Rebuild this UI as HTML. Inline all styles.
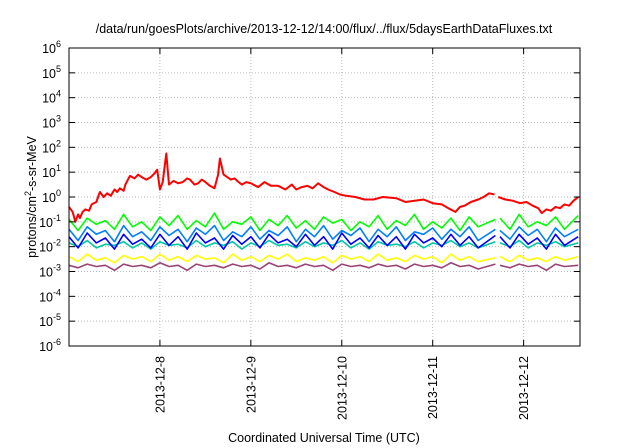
<!DOCTYPE html>
<html><head><meta charset="utf-8"><style>
body{margin:0;background:#fff}
svg{display:block;font-family:"Liberation Sans",sans-serif}
</style></head><body>
<svg id="c" width="640" height="448" xmlns="http://www.w3.org/2000/svg">
<rect width="640" height="448" fill="#fff"/>
<text x="324" y="33" font-size="12.5" text-anchor="middle">/data/run/goesPlots/archive/2013-12-12/14:00/flux/../flux/5daysEarthDataFluxes.txt</text>
<text x="324" y="442" font-size="12.5" text-anchor="middle">Coordinated Universal Time (UTC)</text>
<text transform="translate(36,197) rotate(-90)" font-size="12.5" text-anchor="middle">protons/cm<tspan dy="-5" font-size="9">2</tspan><tspan dy="5">-s-sr-MeV</tspan></text>
<g id="grid"></g><g id="series"></g><g id="axes"></g>
</svg>
<script>
const xTickLabels=["2013-12-8","2013-12-9","2013-12-10","2013-12-11","2013-12-12"];
const xTickDays=[1,2,3,4,5];
const yTickExps=[-6,-5,-4,-3,-2,-1,0,1,2,3,4,5,6];
const redTimes=[0,0.04,0.07,0.1,0.12,0.15,0.18,0.22,0.25,0.3,0.34,0.38,0.42,0.46,0.5,0.53,0.56,0.6,0.62,0.67,0.72,0.76,0.8,0.85,0.9,0.94,0.97,1.0,1.03,1.07,1.1,1.15,1.2,1.25,1.3,1.33,1.38,1.42,1.46,1.5,1.55,1.6,1.64,1.66,1.7,1.74,1.78,1.82,1.85,1.9,1.95,2.0,2.08,2.15,2.22,2.3,2.38,2.45,2.5,2.56,2.62,2.68,2.74,2.8,2.85,2.92,2.98,3.05,3.15,3.25,3.35,3.45,3.6,3.7,3.8,3.9,4.0,4.1,4.17,4.25,4.3,4.35,4.42,4.5,4.56,4.62,4.68,4.7,4.72,4.8,4.88,4.96,5.03,5.1,5.16,5.2,5.25,5.3,5.35,5.4,5.45,5.5,5.55,5.6];
const redVals=[-0.4,-0.6,-1.0,-0.7,-0.85,-0.6,-0.5,-0.55,-0.3,-0.2,0.2,0.0,0.15,0.05,0.3,0.2,0.35,0.25,0.5,0.85,0.75,0.9,0.8,0.7,0.8,0.95,1.1,0.3,0.6,1.75,0.5,0.65,0.55,0.6,0.75,0.7,0.5,0.55,0.7,0.6,0.45,0.35,0.9,1.55,0.9,0.8,0.7,0.75,0.65,0.5,0.6,0.55,0.4,0.6,0.45,0.45,0.3,0.5,0.3,0.4,0.45,0.35,0.55,0.4,0.3,0.2,0.1,0.05,0.0,-0.1,-0.1,0.0,-0.05,-0.2,-0.15,-0.1,-0.25,-0.3,-0.45,-0.6,-0.4,-0.35,-0.2,-0.1,0.0,0.15,0.1,null,0.0,-0.1,-0.15,-0.25,-0.2,-0.35,-0.45,-0.65,-0.5,-0.55,-0.4,-0.45,-0.3,-0.35,-0.15,0.0];
const noiseTimes=[0,0.1,0.2,0.3,0.4,0.5,0.6,0.7,0.8,0.9,1.0,1.1,1.2,1.3,1.4,1.5,1.6,1.7,1.8,1.9,2.0,2.1,2.2,2.3,2.4,2.5,2.6,2.7,2.8,2.9,3.0,3.1,3.2,3.3,3.4,3.5,3.6,3.7,3.8,3.9,4.0,4.1,4.2,4.3,4.4,4.5,4.69,4.71,4.74,4.85,4.95,5.05,5.15,5.25,5.35,5.45,5.6];
const green=[-0.9,-1.35,-0.85,-1.1,-0.95,-1.3,-0.7,-1.2,-1.0,-1.35,-0.8,-1.15,-0.75,-1.3,-0.95,-1.2,-0.65,-1.3,-1.0,-1.1,-0.8,-1.35,-0.9,-1.15,-0.75,-1.25,-0.95,-1.3,-0.8,-1.05,-0.9,-1.35,-1.0,-1.2,-0.75,-1.3,-0.95,-1.15,-0.7,-1.3,-1.0,-1.25,-0.85,-1.35,-0.8,-1.2,-0.9,null,-0.85,-1.3,-0.7,-1.2,-1.0,-1.15,-0.8,-1.3,-0.75];
const lblue=[-1.3,-1.75,-1.2,-1.5,-1.35,-1.8,-1.15,-1.6,-1.4,-1.75,-1.2,-1.55,-1.3,-1.8,-1.25,-1.5,-1.15,-1.75,-1.4,-1.6,-1.2,-1.7,-1.35,-1.55,-1.2,-1.8,-1.3,-1.6,-1.15,-1.7,-1.35,-1.55,-1.25,-1.8,-1.3,-1.6,-1.2,-1.75,-1.4,-1.5,-1.25,-1.7,-1.3,-1.6,-1.2,-1.75,-1.3,null,-1.35,-1.7,-1.2,-1.55,-1.3,-1.8,-1.25,-1.6,-1.3];
const blue=[-1.6,-2.05,-1.45,-1.85,-1.65,-2.1,-1.5,-1.9,-1.7,-2.05,-1.5,-1.95,-1.6,-2.1,-1.45,-1.85,-1.65,-2.1,-1.55,-1.9,-1.6,-2.05,-1.5,-1.85,-1.7,-2.0,-1.5,-1.95,-1.6,-2.1,-1.45,-1.9,-1.65,-2.05,-1.55,-1.95,-1.6,-2.1,-1.5,-1.85,-1.65,-2.0,-1.5,-1.95,-1.6,-2.05,-1.55,null,-1.6,-2.05,-1.5,-1.9,-1.65,-2.1,-1.5,-1.95,-1.6];
const teal=[-1.85,-2.0,-1.75,-2.05,-1.9,-1.95,-1.8,-2.05,-1.85,-2.1,-1.8,-1.95,-1.9,-2.05,-1.75,-2.0,-1.85,-1.95,-1.8,-2.1,-1.85,-2.0,-1.75,-1.95,-1.9,-2.05,-1.8,-2.0,-1.85,-1.95,-1.75,-2.05,-1.85,-2.1,-1.8,-1.95,-1.9,-2.0,-1.8,-2.05,-1.85,-1.95,-1.75,-2.0,-1.85,-2.05,-1.8,null,-1.85,-2.0,-1.75,-2.05,-1.85,-1.95,-1.8,-2.0,-1.85];
const yellow=[-2.4,-2.6,-2.3,-2.55,-2.45,-2.65,-2.35,-2.5,-2.4,-2.6,-2.3,-2.55,-2.4,-2.6,-2.35,-2.5,-2.45,-2.65,-2.3,-2.55,-2.4,-2.6,-2.35,-2.5,-2.3,-2.6,-2.45,-2.55,-2.4,-2.65,-2.35,-2.5,-2.4,-2.6,-2.3,-2.55,-2.45,-2.6,-2.35,-2.5,-2.4,-2.65,-2.3,-2.55,-2.4,-2.6,-2.45,null,-2.4,-2.6,-2.35,-2.55,-2.45,-2.6,-2.4,-2.55,-2.4];
const purple=[-2.75,-2.85,-2.7,-2.8,-2.75,-2.95,-2.7,-2.8,-2.75,-2.85,-2.65,-2.8,-2.75,-2.95,-2.7,-2.8,-2.75,-2.85,-2.7,-2.8,-2.75,-2.9,-2.65,-2.8,-2.75,-2.85,-2.7,-2.8,-2.75,-2.95,-2.7,-2.8,-2.75,-2.85,-2.7,-2.8,-2.75,-2.9,-2.7,-2.8,-2.75,-2.85,-2.65,-2.8,-2.75,-2.9,-2.7,null,-2.75,-2.85,-2.7,-2.8,-2.75,-2.95,-2.7,-2.8,-2.75];

const L=69,R=580,T=48,B=346,DMAX=5.62;
const xS=d=>L+d/DMAX*(R-L);
const yS=e=>B-(e+6)/12*(B-T);
const NS="http://www.w3.org/2000/svg";
function mk(tag,parent,attrs){const el=document.createElementNS(NS,tag);for(const k in attrs)el.setAttribute(k,attrs[k]);parent.appendChild(el);return el;}
const grid=document.getElementById('grid'),axes=document.getElementById('axes'),ser=document.getElementById('series');

yTickExps.forEach(e=>{
  const y=yS(e);
  if(e>-6&&e<6){const g=mk('line',grid,{x1:L,x2:R,y1:y,y2:y,stroke:'#bbb','stroke-dasharray':'1,2','stroke-width':1});
  
  }
  mk('line',axes,{x1:L,x2:L+6,y1:y,y2:y,stroke:'#000'});
  mk('line',axes,{x1:R,x2:R-6,y1:y,y2:y,stroke:'#000'});
  const t=mk('text',axes,{x:L-8,y:y+5,'font-size':12.5,'text-anchor':'end'});
  
  
  t.innerHTML='10<tspan dy="-6" font-size="9">'+e+'</tspan>';
});
xTickDays.forEach((d,i)=>{
  const x=xS(d);
  const g=mk('line',grid,{x1:x,x2:x,y1:T,y2:B,stroke:'#bbb','stroke-dasharray':'1,2'});
  
  
  mk('line',axes,{x1:x,x2:x,y1:B,y2:B-6,stroke:'#000'});
  mk('line',axes,{x1:x,x2:x,y1:T,y2:T+6,stroke:'#000'});
  const t=mk('text',axes,{transform:`translate(${x+4.5},${B+10}) rotate(-90)`,'font-size':12.5,'text-anchor':'end'});
  
  
  t.textContent=xTickLabels[i];
});
const frame=mk('rect',axes,{x:L,y:T,width:R-L,height:B-T,fill:'none',stroke:'#000','stroke-width':1});



function path(times,vals){let d='',pen=false;vals.forEach((v,i)=>{if(v===null){pen=false;return;}d+=(pen?'L':'M')+xS(times[i]).toFixed(1)+','+yS(v).toFixed(1);pen=true;});return d;}
const list=[['purple-series',purple,'#994477'],['yellow-series',yellow,'#ffff00'],['teal-series',teal,'#00c8a0'],['blue-series',blue,'#0000ff'],['lightblue-series',lblue,'#0080ff'],['green-series',green,'#00ff00']];
list.forEach(([n,v,c])=>{
  const p=mk('path',ser,{d:path(noiseTimes,v),fill:'none',stroke:c,'stroke-width':1.6,'stroke-linejoin':'round'});
  
  
});
const rp=mk('path',ser,{d:path(redTimes,redVals),fill:'none',stroke:'#ff0000','stroke-width':2,'stroke-linejoin':'round'});


</script>
</body></html>
